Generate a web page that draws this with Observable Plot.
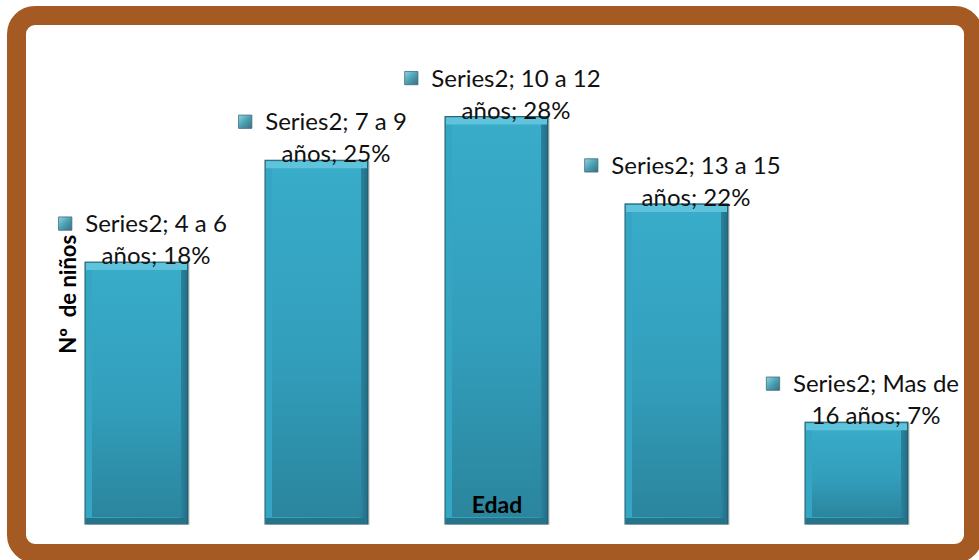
<!DOCTYPE html>
<html>
<head>
<meta charset="utf-8">
<script src="https://cdn.jsdelivr.net/npm/d3@7"></script>
<script src="https://cdn.jsdelivr.net/npm/@observablehq/plot@0.6"></script>
<style>
  html, body { margin: 0; padding: 0; background: #fff; }
  #wrap { position: relative; width: 979px; height: 560px; overflow: hidden; font-family: Lato, "Open Sans", sans-serif; }
  #frame { position: absolute; left: 7px; top: 6px; width: 976px; height: 557px; box-sizing: border-box;
           border: 19px solid #A45A22; border-radius: 28px; background: #fff; }
  #chart { position: absolute; left: 0; top: 0; }
</style>
</head>
<body>
<div id="wrap"><div id="frame"></div><div id="chart"></div></div>
<script>
const categories = ["4 a 6 años", "7 a 9 años", "10 a 12 años", "13 a 15 años", "Mas de 16 años"];
const values = [18, 25, 28, 22, 7];
const seriesName = "Series2";
const yTitle = "Nº  de niños";
const xTitle = "Edad";

const labelSize = 24;
const ctx = document.createElement("canvas").getContext("2d");
ctx.font = labelSize + "px Lato";
const tw = s => ctx.measureText(s).width;

// greedy wrap, like the spreadsheet's label box
const maxW = tw(seriesName + "; 13 a 15") * 1.08;
function wrap(str) {
  const words = str.split(" ");
  const lines = [];
  let cur = "";
  for (const w of words) {
    const t = cur ? cur + " " + w : w;
    if (cur && tw(t) > maxW) { lines.push(cur); cur = w; } else cur = t;
  }
  lines.push(cur);
  return lines;
}

const data = categories.map((c, i) => {
  const lines = wrap(`${seriesName}; ${c}; ${values[i]}%`);
  return {cat: c, v: values[i], l1: lines[0], l2: lines.slice(1).join(" "), w1: tw(lines[0])};
});

const defs = () => {
  const g = d3.create("svg:defs");
  const lin = (id, x2, y2, stops) => {
    const lg = g.append("linearGradient").attr("id", id).attr("x1", 0).attr("y1", 0).attr("x2", x2).attr("y2", y2);
    stops.forEach(([o, c]) => lg.append("stop").attr("offset", o).attr("stop-color", c));
  };
  lin("face", 0, 1, [[0, "#38acc9"], [0.55, "#329ebc"], [1, "#2b859d"]]);
  lin("edge", 1, 0, [[0, "#35a6c3"], [0.9, "#3099b6"], [0.93, "#2a84a0"], [1, "#226c82"]]);
  lin("icon", 1, 1, [[0, "#8fd6e6"], [0.5, "#4c9fb3"], [1, "#3b6f80"]]);
  return g.node();
};

const chart = Plot.plot({
  width: 979,
  height: 560,
  marginLeft: 46.5,
  marginRight: 32.5,
  marginTop: 87.5,
  marginBottom: 36,
  style: {background: "transparent", overflow: "visible"},
  x: {domain: categories, paddingInner: 0.43, paddingOuter: 0.215, axis: null},
  y: {domain: [0, 30], axis: null},
  marks: [
    defs,
    // soft shadow
    Plot.barY(data, {x: "cat", y: "v", fill: "#000", fillOpacity: 0.12, dx: 2, dy: 1}),
    // bevel sides
    Plot.barY(data, {x: "cat", y: "v", fill: "url(#edge)", stroke: "#1d5a6b", strokeWidth: 1}),
    // face
    Plot.barY(data, {x: "cat", y: "v", fill: "url(#face)", insetLeft: 7, insetRight: 7, insetTop: 7, insetBottom: 7}),
    // top bevel
    Plot.tickY(data, {x: "cat", y: "v", stroke: "#5fc3db", strokeWidth: 7, dy: 4, insetLeft: 1, insetRight: 1}),
    // bottom bevel
    Plot.tickY(data, {x: "cat", y: () => 0, stroke: "#26748a", strokeWidth: 6, dy: -3.5, insetLeft: 1, insetRight: 1}),
    // labels
    Plot.text(data, {x: "cat", y: "v", text: "l1", dx: 19, dy: -38, fontSize: labelSize, fontFamily: "Lato", fill: "#111"}),
    Plot.text(data, {x: "cat", y: "v", text: "l2", dx: 19, dy: -6, fontSize: labelSize, fontFamily: "Lato", fill: "#111"}),
    ...data.map(d => Plot.dot([d], {x: "cat", y: "v", symbol: "square", r: 7.5, fill: "url(#icon)",
      stroke: "#3f6b7a", strokeWidth: 0.8, dx: 19 - d.w1 / 2 - 20, dy: -39})),
    // axis titles
    Plot.text([yTitle], {frameAnchor: "left", textAnchor: "middle", lineAnchor: "middle", rotate: -90, dx: 21.5, dy: -12,
      fontSize: 22, fontWeight: "bold", fontFamily: "Lato", fill: "#000"}),
    Plot.text([xTitle], {frameAnchor: "bottom", lineAnchor: "middle", dy: -19, fontSize: 23, fontWeight: "bold", fontFamily: "Lato", fill: "#000"})
  ]
});
document.getElementById("chart").appendChild(chart);
</script>
</body>
</html>
